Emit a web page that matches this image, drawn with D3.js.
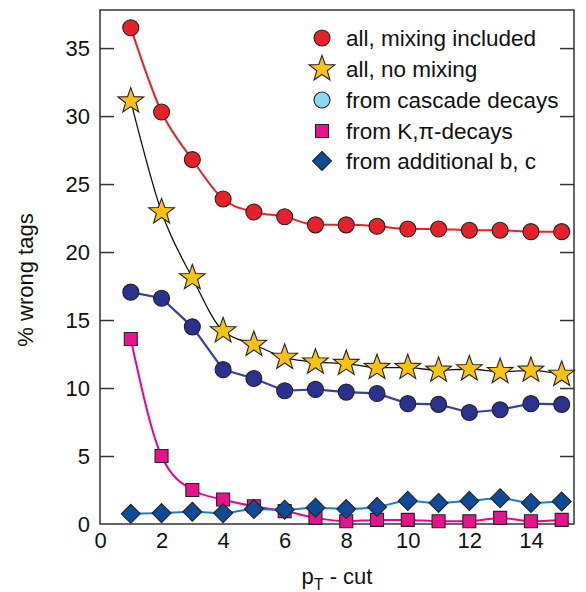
<!DOCTYPE html>
<html><head><meta charset="utf-8">
<script src="https://cdn.jsdelivr.net/npm/d3@7"></script>
<style>body{margin:0;background:#fff}svg{display:block}text{font-family:"Liberation Sans",Arial,sans-serif;fill:#111}</style>
</head><body><svg id="c" width="586" height="592"></svg>
<script>
const cuts = [1,2,3,4,5,6,7,8,9,10,11,12,13,14,15];
const mixIncluded = [36.5,30.3,26.8,23.9,22.95,22.6,22.0,22.0,21.9,21.7,21.7,21.6,21.6,21.5,21.5];
const noMixing = [31.1,22.95,18.1,14.2,13.2,12.25,11.9,11.8,11.5,11.5,11.3,11.4,11.2,11.3,11.0];
const cascade = [17.05,16.6,14.5,11.35,10.7,9.8,9.9,9.7,9.6,8.85,8.8,8.2,8.4,8.85,8.8];
const kpiDecays = [13.6,5.0,2.5,1.8,1.3,0.95,0.45,0.2,0.3,0.3,0.2,0.2,0.45,0.2,0.3];
const additional = [0.75,0.8,0.9,0.8,1.1,1.05,1.2,1.1,1.25,1.7,1.55,1.7,1.9,1.55,1.65];
const xTicks = [0,2,4,6,8,10,12,14];
const yTicks = [0,5,10,15,20,25,30,35];
const legendLabels = ["all, mixing included","all, no mixing","from cascade decays","from K,\u03C0-decays","from additional b, c"];

const svg = d3.select("#c");
const L=100,R=574,T=10,B=524;
const x = d3.scaleLinear().domain([0,15.4]).range([L,R]);
const y = d3.scaleLinear().domain([0,37.8]).range([B,T]);
const frameCol="#333";

svg.append("rect").attr("x",L).attr("y",T).attr("width",R-L).attr("height",B-T)
  .attr("fill","none").attr("stroke",frameCol).attr("stroke-width",1.5);

const yl = svg.append("g").attr("transform",`translate(${L},0)`)
  .call(d3.axisLeft(y).tickValues(yTicks).tickSize(-14).tickPadding(10).tickFormat(d3.format("d")));
const yr = svg.append("g").attr("transform",`translate(${R},0)`)
  .call(d3.axisRight(y).tickValues(yTicks.slice(1)).tickSize(-14).tickFormat(""));
const xb = svg.append("g").attr("transform",`translate(0,${B})`)
  .call(d3.axisBottom(x).tickValues(xTicks).tickSize(0).tickPadding(8).tickFormat(d3.format("d")));
[yl,yr,xb].forEach(g=>{g.select(".domain").remove();
  g.selectAll("line").attr("stroke",frameCol).attr("stroke-width",1.5);
  g.selectAll("text").style("font-size","22px").attr("fill","#111").style("font-family",'"Liberation Sans",Arial,sans-serif');});
yl.selectAll("line").filter(d=>d===0).remove();

svg.append("text").attr("transform",`translate(33,${280}) rotate(-90)`).attr("text-anchor","middle")
  .style("font-size","22px").text("% wrong tags");
const xt = svg.append("text").attr("x",337).attr("y",584).attr("text-anchor","middle").style("font-size","22px");
xt.append("tspan").text("p");
xt.append("tspan").attr("dy",6).style("font-size","16px").text("T");
xt.append("tspan").attr("dy",-6).text(" - cut");

const pts = v => cuts.map((c,i)=>[c,v[i]]);
const line = curve => d3.line().x(d=>x(d[0])).y(d=>y(d[1])).curve(curve);

const series = [
  {v:mixIncluded, line:"#e8202a", w:2, curve:d3.curveMonotoneX, sym:"circle", fill:"#e8202a"},
  {v:noMixing, line:"#111", w:1.3, curve:d3.curveMonotoneX, sym:"star", fill:"#ffc20e"},
  {v:cascade, line:"#3a3f9c", w:2.2, curve:d3.curveLinear, sym:"circle", fill:"#2b3190"},
  {v:kpiDecays, line:"#ec008c", w:2, curve:d3.curveMonotoneX, sym:"square", fill:"#e8128c"},
  {v:additional, line:"#1f7cc4", w:2, curve:d3.curveMonotoneX, sym:"diamond", fill:"#0d4a9a"}
];
const legendFill = ["#e8202a","#ffc20e","#8ed8f4","#e8128c","#0d4a9a"];

function starPath(ro,ri){let p=[];for(let k=0;k<10;k++){const r=k%2?ri:ro;const a=-Math.PI/2+k*Math.PI/5;p.push([r*Math.cos(a),r*Math.sin(a)]);}
  return "M"+p.map(q=>q[0].toFixed(2)+","+q[1].toFixed(2)).join("L")+"Z";}
function symPath(s){
  if(s==="circle") return d3.symbol(d3.symbolCircle, Math.PI*8*8)();
  if(s==="star") return starPath(13.5,5.5);
  if(s==="square") return "M-6.5,-6.5H6.5V6.5H-6.5Z";
  if(s==="diamond") return "M0,-9.5L9.5,0L0,9.5L-9.5,0Z";
}
const g = svg.append("g");
series.forEach(s=>{
  g.append("path").datum(pts(s.v)).attr("d",line(s.curve)).attr("fill","none")
   .attr("stroke",s.line).attr("stroke-width",s.w);
});
series.forEach(s=>{
  g.selectAll(null).data(pts(s.v)).join("path")
   .attr("transform",d=>`translate(${x(d[0])},${y(d[1])})`)
   .attr("d",symPath(s.sym)).attr("fill",s.fill).attr("stroke","#222").attr("stroke-width",1.1);
});

const lg = svg.append("g");
const ly = [38,69,100,131,161];
legendLabels.forEach((t,i)=>{
  lg.append("path").attr("transform",`translate(322,${ly[i]})`).attr("d",symPath(series[i].sym))
    .attr("fill",legendFill[i]).attr("stroke","#222").attr("stroke-width",1.1);
  lg.append("text").attr("x",346).attr("y",ly[i]+8).style("font-size","22.5px").text(t);
});
</script></body></html>
